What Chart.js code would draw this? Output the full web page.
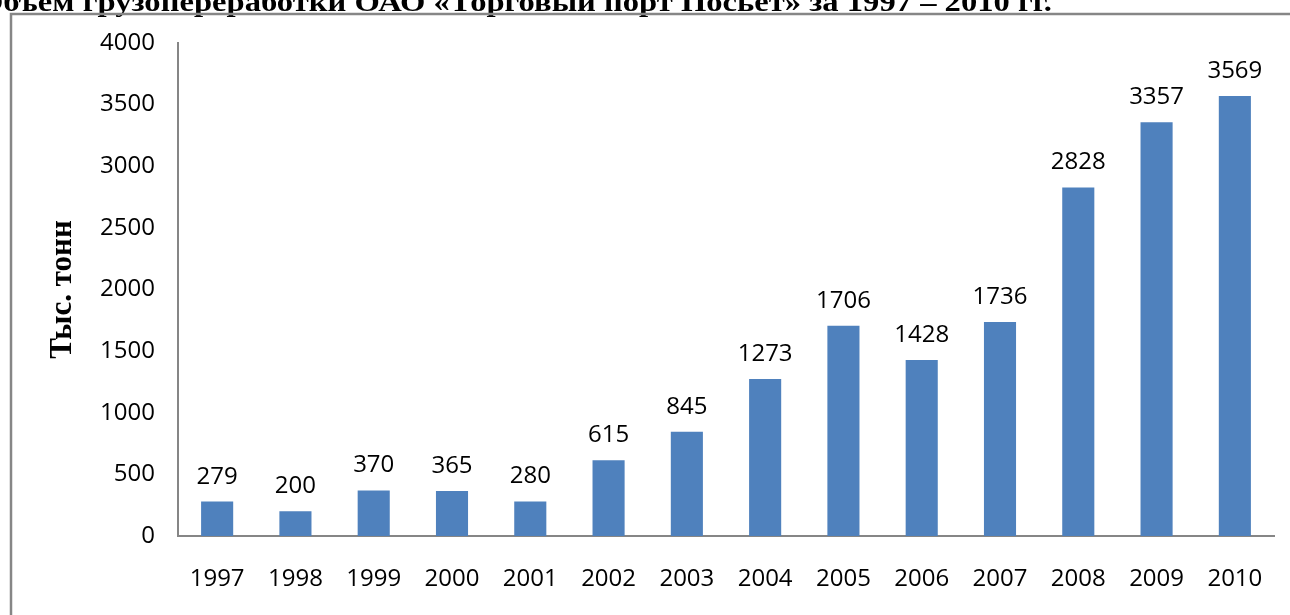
<!DOCTYPE html>
<html>
<head>
<meta charset="utf-8">
<script src="https://cdn.jsdelivr.net/npm/chart.js@4"></script>
<style>
  html, body { margin: 0; padding: 0; background: #fff; }
  #wrap { width: 1290px; height: 615px; position: relative; }
</style>
</head>
<body>
<div id="wrap"><canvas id="miGrafico" width="1290" height="615"></canvas></div>
<script>
const years = ['1997', '1998', '1999', '2000', '2001', '2002', '2003', '2004', '2005', '2006', '2007', '2008', '2009', '2010'];
const tonnage = [279, 200, 370, 365, 280, 615, 845, 1273, 1706, 1428, 1736, 2828, 3357, 3569];
const yTicks = [0, 500, 1000, 1500, 2000, 2500, 3000, 3500, 4000];
const chartTitle = 'Объем грузопереработки ОАО «Торговый порт Посьет» за 1997 – 2010 гг.';
const axisTitle = 'Тыс. тонн';

const labelFont = '24px "Open Sans"';

// frame + cropped title above it
const framePlugin = {
    id: 'frame',
    beforeDraw(chart) {
        const c = chart.ctx;
        c.save();
        c.font = 'bold 28px "Liberation Serif"';
        c.fillStyle = '#000';
        c.textBaseline = 'alphabetic';
        const w = c.measureText(chartTitle).width;
        const sx = 1074 / w;
        c.translate(-22, 11);
        c.scale(sx, 1);
        c.fillText(chartTitle, 0, 0);
        c.restore();

        c.save();
        c.strokeStyle = '#868686';
        c.lineWidth = 2.5;
        c.beginPath();
        c.moveTo(11, 615);
        c.lineTo(11, 14);
        c.lineTo(1290, 14);
        c.stroke();
        c.restore();
    }
};

// value labels above the bars
const valuePlugin = {
    id: 'values',
    afterDatasetsDraw(chart) {
        const c = chart.ctx;
        const meta = chart.getDatasetMeta(0);
        c.save();
        c.font = labelFont;
        c.fillStyle = '#000';
        c.textAlign = 'center';
        c.textBaseline = 'alphabetic';
        meta.data.forEach((bar, i) => {
            c.fillText(String(tonnage[i]), bar.x, bar.y - 18);
        });
        c.restore();
    }
};

window.addEventListener("load", () => {
    const ctx = document.querySelector('#miGrafico').getContext('2d');

    new Chart(ctx, {
        type: 'bar',
        data: {
            labels: years,
            datasets: [{
                label: axisTitle,
                data: tonnage,
                backgroundColor: '#4F81BD',
                borderWidth: 0,
                barPercentage: 0.41,
                categoryPercentage: 1.0
            }]
        },
        options: {
            responsive: false,
            animation: false,
            layout: { padding: { left: 0, top: 43, right: 16, bottom: 0 } },
            plugins: {
                legend: { display: false },
                tooltip: { enabled: false }
            },
            scales: {
                x: {
                    grid: { display: false },
                    border: { display: true, color: '#868686', width: 2 },
                    ticks: { color: '#000', font: { family: 'Open Sans', size: 24 }, padding: 21, maxRotation: 0 },
                    afterFit: (s) => { s.height = 79; }
                },
                y: {
                    min: 0,
                    max: 4000,
                    grid: { display: false },
                    border: { display: true, color: '#868686', width: 2 },
                    afterBuildTicks: (s) => { s.ticks = yTicks.map(v => ({ value: v })); },
                    ticks: {
                        color: '#000',
                        font: { family: 'Open Sans', size: 24 },
                        padding: 15,
                        callback: (v) => String(v)
                    },
                    title: {
                        display: true,
                        text: axisTitle,
                        color: '#000',
                        font: { family: 'Liberation Serif', size: 31, weight: 'bold' },
                        padding: { top: 44, bottom: 0 }
                    },
                    afterFit: (s) => { s.width = 178; }
                }
            }
        },
        plugins: [framePlugin, valuePlugin]
    });
});
</script>
</body>
</html>
